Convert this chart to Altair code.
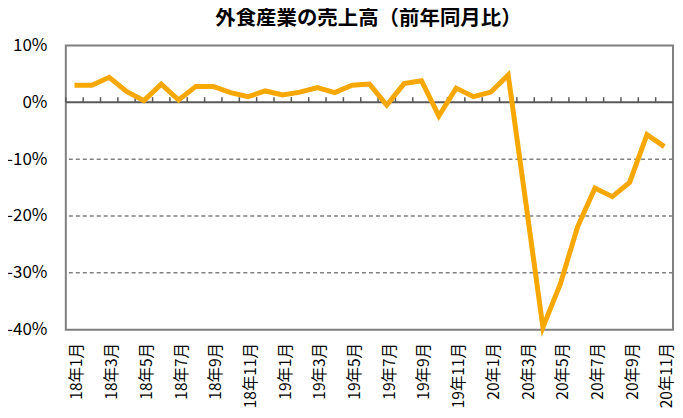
import altair as alt
import pandas as pd

months = [f"{y}年{m}月" for y in (18, 19, 20) for m in range(1, 13)][:35]
values = [3.0, 3.0, 4.4, 1.9, 0.3, 3.2, 0.4, 2.8, 2.8, 1.7, 1.0, 2.0,
          1.3, 1.8, 2.6, 1.7, 3.0, 3.2, -0.5, 3.3, 3.8, -2.4, 2.5, 1.0,
          1.8, 4.8, -17.3, -39.6, -32.0, -21.9, -15.1, -16.6, -14.1, -5.7, -7.8]
label_months = months[::2]
grid_values = [-10, -20, -30]
y_ticks = [10, 0, -10, -20, -30, -40]

df = pd.DataFrame({"month": months, "value": values})
FONT = "Noto Sans CJK JP"

xs = alt.Scale(domain=months, paddingInner=0, paddingOuter=0)
ys = alt.Scale(domain=[-40, 10], nice=False, zero=False)

base = alt.Chart(df)

grid = alt.Chart(pd.DataFrame({"g": grid_values})).mark_rule(
    color="#808080", strokeWidth=1.5, strokeDash=[4, 3]
).encode(y=alt.Y("g:Q", scale=ys))

zero = alt.Chart(pd.DataFrame({"g": [0]})).mark_rule(
    color="#595959", strokeWidth=2
).encode(y=alt.Y("g:Q", scale=ys))

ticks = base.mark_rule(color="#595959", strokeWidth=1.5).encode(
    x=alt.X("month:N", scale=xs, bandPosition=0),
    y=alt.datum(0, scale=ys),
    y2=alt.datum(0.9),
)

line = base.mark_line(color="#F7A800", strokeWidth=5, strokeJoin="miter").encode(
    x=alt.X("month:N", scale=xs, sort=months, title=None,
            axis=alt.Axis(values=label_months, labelAngle=270, labelFontSize=15.5,
                          labelFont=FONT, labelColor="#000000", labelPadding=13,
                          labelOffset=3, labelOverlap=False, labelBound=False,
                          ticks=False, domain=False, grid=False)),
    y=alt.Y("value:Q", scale=ys, title=None,
            axis=alt.Axis(values=y_ticks, labelExpr="datum.value + '%'",
                          labelFontSize=17, labelFont=FONT, labelColor="#000000",
                          labelPadding=19, ticks=False, domain=False, grid=False)),
)

chart = alt.layer(grid, zero, ticks, line).properties(
    width=609, height=285,
    autosize=alt.AutoSizeParams(type="none"),
    padding={"left": 58, "top": 37, "right": 2, "bottom": 80},
    title=alt.TitleParams("外食産業の売上高（前年同月比）", font=FONT, fontSize=20.5,
                          fontWeight="bold", color="#000000", anchor="middle",
                          dx=-1, offset=7),
).configure_view(stroke="#808080", strokeWidth=2)

chart.save("out.html", embed_options={"renderer": "svg", "actions": False})
